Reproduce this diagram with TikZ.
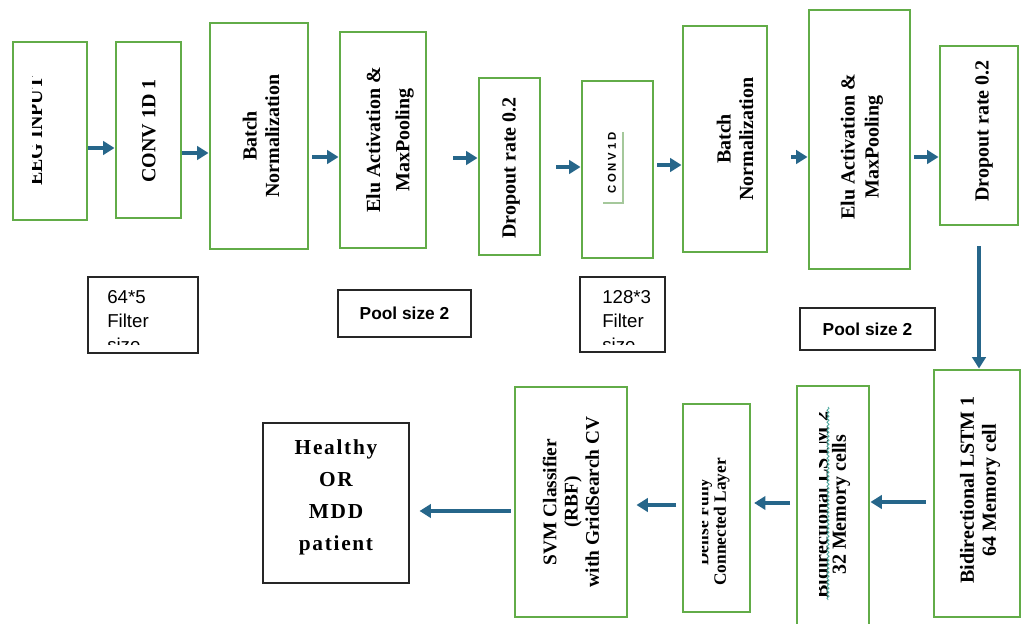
\documentclass[tikz,border=0pt]{standalone}
\usepackage{fontspec}
\setmainfont{Liberation Serif}
\setsansfont{Liberation Sans}
\usetikzlibrary{arrows.meta,decorations.pathmorphing}
\definecolor{boxgreen}{RGB}{98,172,72}
\definecolor{arrowblue}{RGB}{38,102,138}
\definecolor{faintline}{RGB}{165,200,155}
\definecolor{squiggle}{RGB}{80,170,160}
\tikzset{
  gbox/.style={draw=boxgreen, line width=2.2pt, fill=white, inner sep=0pt},
  kbox/.style={draw=black!85, line width=1.3pt, fill=white, inner sep=0pt},
  lbl/.style={rotate=90, font=\fontsize{15}{17}\selectfont\bfseries, align=center, inner sep=0pt},
  arr/.style={draw=arrowblue, line width=2.4pt, -{Triangle[length=8.5pt,width=10pt]}},
  note/.style={font=\fontsize{14}{18}\selectfont\sffamily, align=left, inner sep=0pt, anchor=north west},
  pool/.style={font=\fontsize{13}{15}\selectfont\sffamily\bfseries, inner sep=0pt},
}
\begin{document}
\begin{tikzpicture}[x=0.75pt,y=-0.75pt]
\clip (0,0) rectangle (1021,624);
\fill[white] (0,0) rectangle (1021,624);

% ---- feature extraction row ----
\node[gbox, minimum width=55.5pt, minimum height=133.5pt] (eeg) at (50,131) {};
\node[gbox, minimum width=48.75pt, minimum height=132pt] (conv1) at (148.5,130) {};
\node[gbox, minimum width=73.5pt, minimum height=169.5pt] (bn1) at (259,136) {};
\node[gbox, minimum width=64.5pt, minimum height=162pt] (elu1) at (383,140) {};
\node[gbox, minimum width=45.75pt, minimum height=132.75pt] (drop1) at (509.5,166.5) {};
\node[gbox, minimum width=53.25pt, minimum height=132.75pt] (conv2) at (617.5,169.5) {};
\node[gbox, minimum width=63pt, minimum height=169.5pt] (bn2) at (725,139) {};
\node[gbox, minimum width=75.75pt, minimum height=194.25pt] (elu2) at (859.5,139.5) {};
\node[gbox, minimum width=58.5pt, minimum height=134.25pt] (drop2) at (979,135.5) {};

\begin{scope}
  \clip (32,42) rectangle (87,220);
  \node[lbl] (eegtxt) at (35.5,131) {EEG INPUT};
\end{scope}
\node[lbl] (conv1txt) at (149,131) {CONV 1D 1};
\node[lbl, font=\fontsize{15}{17}\selectfont\bfseries] (bn1txt) at (261,136) {Batch\\Normalization};
\node[lbl, font=\fontsize{15}{22}\selectfont\bfseries] (elu1txt) at (390,140) {Elu Activation \&\\MaxPooling};
\node[lbl] (drop1txt) at (511,168) {Dropout rate 0.2};
\node[lbl, font=\fontsize{8.5}{10}\selectfont\sffamily\bfseries\addfontfeature{LetterSpace=25}] (conv2txt) at (612,163) {CONV1D};
\draw[faintline, line width=1pt] (623,132) -- (623,203) -- (603,203);
\node[lbl, font=\fontsize{15}{17}\selectfont\bfseries] (bn2txt) at (735,139) {Batch\\Normalization};
\node[lbl, font=\fontsize{15}{18}\selectfont\bfseries] (elu2txt) at (862,147) {Elu Activation \&\\MaxPooling};
\node[lbl] (drop2txt) at (984,131) {Dropout rate 0.2};

% ---- parameter notes ----
\node[kbox, minimum width=82.5pt, minimum height=57pt] (f1) at (143,315) {};
\begin{scope}
  \clip (90,279) rectangle (196,344);
  \node[note] (f1txt) at (107,290) {64*5\\Filter\\size};
\end{scope}
\node[kbox, minimum width=99.75pt, minimum height=35.25pt] (p1) at (404.5,313.5) {};
\node[pool] (p1txt) at (p1) {Pool size 2};
\node[kbox, minimum width=63.75pt, minimum height=56.25pt] (f2) at (622.5,314.5) {};
\begin{scope}
  \clip (582,279) rectangle (663,344);
  \node[note] (f2txt) at (602,290) {128*3\\Filter\\size};
\end{scope}
\node[kbox, minimum width=101.25pt, minimum height=31.5pt] (p2) at (867.5,329) {};
\node[pool] (p2txt) at (p2) {Pool size 2};

% ---- classification row ----
\node[gbox, minimum width=64.5pt, minimum height=185.25pt] (lstm1) at (977,493.5) {};
\node[gbox, minimum width=54pt, minimum height=183pt] (lstm2) at (833,508) {};
\node[gbox, minimum width=50.25pt, minimum height=156pt] (dense) at (716.5,508) {};
\node[gbox, minimum width=84pt, minimum height=172.5pt] (svm) at (571,502) {};
\node[kbox, line width=1.8pt, minimum width=109.5pt, minimum height=120pt] (out) at (336,503) {};

\node[lbl, font=\fontsize{15}{16.5}\selectfont\bfseries] (lstm1txt) at (980,490) {Bidirectional LSTM 1\\64 Memory cell};
\begin{scope}
  \clip (819,386) rectangle (869,624);
  \node[lbl, font=\fontsize{15}{13.5}\selectfont\bfseries] (lstm2txt) at (832,505) {Bidirectional LSTM 2\\32 Memory cells};
\end{scope}
\draw[squiggle, line width=0.6pt, decorate, decoration={snake, amplitude=0.8pt, segment length=3pt}] (828,407) -- (828,600);
\begin{scope}
  \clip (702,404) rectangle (750,612);
  \node[lbl, font=\fontsize{13}{13}\selectfont\bfseries] (densetxt) at (713,522) {Dense Fully\\Connected Layer};
\end{scope}
\node[lbl, font=\fontsize{14.5}{16}\selectfont\bfseries] (svmtxt) at (571,502) {SVM Classifier\\(RBF)\\with GridSearch CV};
\node[font=\fontsize{16}{24}\selectfont\bfseries\addfontfeature{LetterSpace=8}, align=center, inner sep=0pt] (outtxt) at (336,497) {Healthy\\OR\\MDD\\patient};

% ---- connectors ----
\draw[arr] (eeg.east |- 0,148) -- (conv1.west |- 0,148);
\draw[arr] (conv1.east |- 0,153) -- (bn1.west |- 0,153);
\draw[arr, shorten <=2pt] (bn1.east |- 0,157) -- (elu1.west |- 0,157);
\draw[arr, shorten <=19.5pt] (elu1.east |- 0,158) -- (drop1.west |- 0,158);
\draw[arr, shorten <=11pt] (drop1.east |- 0,167) -- (conv2.west |- 0,167);
\draw[arr, shorten <=2pt] (conv2.east |- 0,165) -- (bn2.west |- 0,165);
\draw[arr, shorten <=17pt] (bn2.east |- 0,157) -- (elu2.west |- 0,157);
\draw[arr, shorten <=2pt] (elu2.east |- 0,157) -- (drop2.west |- 0,157);
\draw[arr, shorten <=15pt] (drop2.south) -- (drop2.south |- lstm1.north);
\draw[arr, shorten <=5pt] (lstm1.west |- 0,502) -- (lstm2.east |- 0,502);
\draw[arr, shorten <=4pt, shorten >=2pt] (lstm2.west |- 0,503) -- (dense.east |- 0,503);
\draw[arr, shorten <=4pt, shorten >=6pt] (dense.west |- 0,505) -- (svm.east |- 0,505);
\draw[arr, shorten <=2pt, shorten >=7pt] (svm.west |- 0,511) -- (out.east |- 0,511);
\end{tikzpicture}
\end{document}
